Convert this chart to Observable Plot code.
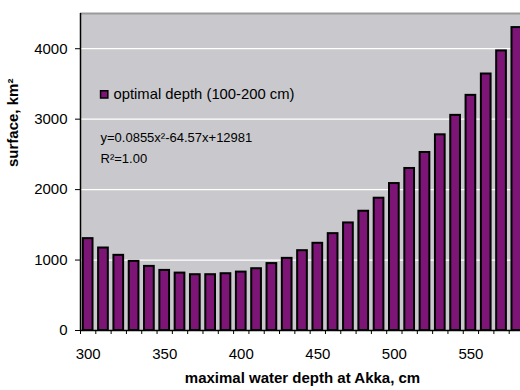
<!DOCTYPE html>
<html>
<head>
<meta charset="utf-8">
<script src="https://cdn.jsdelivr.net/npm/d3@7"></script>
<script src="https://cdn.jsdelivr.net/npm/@observablehq/plot@0.6"></script>
<style>
  html, body { margin: 0; padding: 0; background: white; overflow: hidden; }
</style>
</head>
<body>
<div id="chart"></div>
<script>
const depths = [300,310,320,330,340,350,360,370,380,390,400,410,420,430,440,450,460,470,480,490,500,510,520,530,540,550,560,570,580];
const surface = [1304,1171,1067,981,910,853,815,792,792,806,829,877,950,1024,1133,1238,1375,1527,1693,1878,2086,2300,2527,2778,3054,3338,3641,3969,4300];
const yTicks = [0,1000,2000,3000,4000];
const xTickLabels = [300,350,400,450,500,550];
const legendLabel = "optimal depth (100-200 cm)";
const equation = "y=0.0855x²-64.57x+12981";
const rSquared = "R²=1.00";
const xTitle = "maximal water depth at Akka, cm";
const yTitle = "surface, km²";

const data = depths.map((d, i) => ({depth: d, surface: surface[i]}));
const step = depths[1] - depths[0];
const boundaries = depths.map(d => d - step / 2).concat([depths[depths.length - 1] + step / 2]);
const xMin = boundaries[0], xMax = boundaries[boundaries.length - 1];

const barFill = "#7d1577";
const bg = "#c9c9cd";

const chart = Plot.plot({
  width: 520,
  height: 390,
  marginLeft: 80,
  marginRight: -4,
  marginTop: 13,
  marginBottom: 60,
  style: {fontFamily: "'Liberation Sans', Arial, sans-serif", fontSize: "15px", background: "white", color: "black", overflow: "hidden"},
  x: {domain: [xMin, xMax], axis: null},
  y: {domain: [0, 4500], axis: null},
  marks: [
    Plot.frame({fill: bg, stroke: null}),
    Plot.ruleY(yTicks.filter(t => t > 0), {stroke: "white", strokeWidth: 1.2}),
    Plot.ruleY([4500], {stroke: "#9a9a9a", strokeWidth: 2}),
    Plot.rectY(data, {
      x1: d => d.depth - step / 2,
      x2: d => d.depth + step / 2,
      y: "surface",
      insetLeft: 2.8,
      insetRight: 2.8,
      fill: barFill,
      stroke: "black",
      strokeWidth: 2
    }),
    Plot.ruleX([xMin], {stroke: "black", strokeWidth: 1.5}),
    Plot.ruleY([0], {stroke: "black", strokeWidth: 1.5}),
    Plot.axisY({ticks: yTicks, tickSize: 5, tickPadding: 8, fontSize: 15, label: null, tickFormat: d => String(d)}),
    Plot.axisX({ticks: boundaries, tickSize: 4, tickFormat: () => "", label: null}),
    Plot.axisX({ticks: xTickLabels, tickSize: 0, tickPadding: 18, fontSize: 15, label: null, tickFormat: d => String(d)}),
    Plot.dot([legendLabel], {frameAnchor: "top-left", dx: 23.7, dy: 80.8, symbol: "square", r: 4.1, fill: barFill, stroke: "black", strokeWidth: 1.5}),
    Plot.text([legendLabel], {frameAnchor: "top-left", dx: 33, dy: 81, text: d => d, textAnchor: "start", lineAnchor: "middle", fontSize: 14.8, fill: "black"}),
    Plot.text([equation], {frameAnchor: "top-left", dx: 20, dy: 124, text: d => d, textAnchor: "start", lineAnchor: "middle", fontSize: 13, fill: "black"}),
    Plot.text([rSquared], {frameAnchor: "top-left", dx: 20, dy: 145, text: d => d, textAnchor: "start", lineAnchor: "middle", fontSize: 13, fill: "black"}),
    Plot.text([xTitle], {frameAnchor: "bottom", dy: 47.5, text: d => d, fontWeight: "bold", fontSize: 15, lineAnchor: "middle", fill: "black"}),
    Plot.text([yTitle], {frameAnchor: "left", dx: -67, dy: -5, rotate: -90, text: d => d, fontWeight: "bold", fontSize: 15, lineAnchor: "middle", fill: "black"})
  ]
});
document.getElementById("chart").appendChild(chart);
</script>
</body>
</html>
